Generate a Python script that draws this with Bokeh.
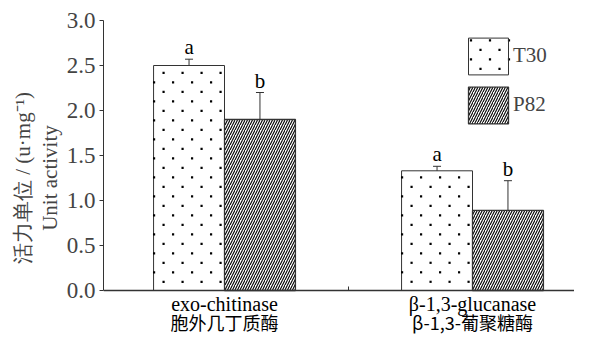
from bokeh.plotting import figure
from bokeh.models import (Range1d, FixedTicker, ColumnDataSource, Whisker, TeeHead,
                          Legend, LegendItem)
from bokeh.core.properties import value
from bokeh.embed import file_html
from bokeh.resources import INLINE

categories_en = ["exo-chitinase", "β-1,3-glucanase"]
categories_zh = ["胞外几丁质酶", "β-1,3-葡聚糖酶"]
series = ["T30", "P82"]
t30_values = [2.50, 1.33]
t30_errors = [0.07, 0.05]
p82_values = [1.90, 0.89]
p82_errors = [0.30, 0.33]
t30_letters = ["a", "a"]
p82_letters = ["b", "b"]
y_ticks = [0.0, 0.5, 1.0, 1.5, 2.0, 2.5, 3.0]

SERIF = "Liberation Serif"
CJK = "Noto Sans CJK SC"
FS = "21px"
AX = "#333333"

# layout constants
W, H = 574, 335
LEFT, TOP = 103, 20
AXIS_Y = 290                      # pixel row of y = 0
PX_X = 248.0                      # pixels per x unit
PX_Y = (AXIS_Y - TOP) / 3.0       # pixels per y unit
G1_PX = 224                       # pixel column of first group centre
group_pos = [i + 1 for i in range(len(categories_en))]
offset = 0.143
bar_w = 0.286

x0 = 1 - (G1_PX - LEFT) / PX_X
x1 = x0 + (W - LEFT) / PX_X
y1 = 3.0
y0 = y1 - (H - TOP) / PX_Y

p = figure(width=W, height=H, x_range=Range1d(x0, x1), y_range=Range1d(y0, y1),
           output_backend="svg", toolbar_location=None,
           min_border_left=LEFT, min_border_right=0, min_border_top=TOP, min_border_bottom=0)
p.outline_line_color = None
p.xgrid.visible = False
p.ygrid.visible = False
p.background_fill_color = "white"
p.border_fill_color = "white"

t30_src = ColumnDataSource(dict(
    x=[g - offset for g in group_pos], top=t30_values,
    upper=[v + e for v, e in zip(t30_values, t30_errors)], letter=t30_letters))
p82_src = ColumnDataSource(dict(
    x=[g + offset for g in group_pos], top=p82_values,
    upper=[v + e for v, e in zip(p82_values, p82_errors)], letter=p82_letters))

r1 = p.vbar(x="x", top="top", width=bar_w, source=t30_src, fill_color="white",
            fill_alpha=0, line_color=AX, line_width=1)
r2 = p.vbar(x="x", top="top", width=bar_w, source=p82_src, fill_color="white",
            line_color=AX, line_width=1.3, hatch_pattern="right_diagonal_line",
            hatch_color="black", hatch_scale=5, hatch_weight=1.1)


# dotted fill texture for T30 (staggered dot grid, 19 px x 9.5 px)
def dot_grid(left, right, bottom, top):
    xs, ys = [], []
    j = 0
    ypx = 8.7
    while bottom + ypx / PX_Y < top - 2 / PX_Y:
        start = 10.0 if j % 2 == 0 else 0.5
        xpx = start
        while left + xpx / PX_X <= right + 1e-9:
            xs.append(left + xpx / PX_X)
            ys.append(bottom + ypx / PX_Y)
            xpx += 19.0
        ypx += 9.5
        j += 1
    return xs, ys


dx, dy = [], []
for xc, t in zip(t30_src.data["x"], t30_values):
    a, b = dot_grid(xc - bar_w / 2, xc + bar_w / 2, 0.0, t)
    dx += a
    dy += b
p.scatter(dx, dy, marker="square", size=2.2, fill_color="black", line_color=None)

for src in (t30_src, p82_src):
    p.add_layout(Whisker(source=src, base="x", lower="top", upper="upper",
                         upper_head=TeeHead(size=8, line_color=AX, line_width=1),
                         lower_head=None, line_color=AX, line_width=1))
    p.text(x="x", y="upper", text="letter", source=src, text_font=value(SERIF),
           text_font_size=FS, text_align="center", text_baseline="bottom",
           y_offset=0, text_color="black")

# legend: drawn swatch top-left at (468, 37) px, 40 x 37 px (legend insets 10 %)
SW_X, SW_Y, SW, SH = 468, 37, 40, 37
GW, GH = SW / 0.8, SH / 0.8
GAP = 3
area_left = SW_X - (GW - SW) / 2
area_top = SW_Y - (GH - SH) / 2
legend = Legend(items=[LegendItem(label=series[0], renderers=[r1]),
                       LegendItem(label=series[1], renderers=[r2])],
                location=(area_left - LEFT, (H - area_top) - (2 * GH + GAP)),
                orientation="vertical",
                glyph_width=int(round(GW)), glyph_height=int(round(GH)), spacing=GAP,
                padding=0, margin=0, label_standoff=0, border_line_color=None,
                background_fill_alpha=0,
                label_text_font=SERIF, label_text_font_size=FS)
p.add_layout(legend)

# dots inside the T30 legend swatch (seen through its transparent fill)
sl = 1 + (SW_X + 2 - G1_PX) / PX_X
sr = 1 + (SW_X + 2 + SW - G1_PX) / PX_X
sb = (AXIS_Y - SW_Y - SH) / PX_Y
st = (AXIS_Y - SW_Y) / PX_Y
lx, ly = dot_grid(sl, sr, sb - 3 / PX_Y, st + 2 / PX_Y)
p.scatter(lx, ly, marker="square", size=2.2, fill_color="black", line_color=None)

# y axis
ya = p.yaxis[0]
ya.ticker = FixedTicker(ticks=y_ticks)
ya.bounds = (0, 3)
ya.major_label_overrides = {t: f"{t:.1f}" for t in y_ticks}
ya.major_tick_out = 4
ya.major_tick_in = 0
ya.minor_tick_line_color = None
ya.major_label_text_font = SERIF
ya.major_label_text_font_size = "23px"
ya.major_label_standoff = 4
ya.axis_label = "活力单位 / (u·mg⁻¹)\nUnit activity"
ya.axis_label_text_font = SERIF
ya.axis_label_text_font_size = FS
ya.axis_label_text_font_style = "normal"
ya.axis_label_text_line_height = 1.1
ya.axis_label_standoff = 2
ya.axis_line_color = AX
ya.major_tick_line_color = AX

# x axis at y = 0 with the middle tick; category labels as text below it
xa = p.xaxis[0]
xa.fixed_location = 0
xa.ticker = FixedTicker(ticks=group_pos, minor_ticks=[1.5])
xa.major_label_text_font_size = "0px"
xa.major_label_text_alpha = 0
xa.major_tick_line_color = None
xa.minor_tick_in = 4
xa.minor_tick_out = 0
xa.minor_tick_line_color = AX
xa.axis_line_color = AX
xa.axis_line_width = 1.3

lab_src = ColumnDataSource(dict(x=group_pos, en=categories_en, zh=categories_zh))
p.text(x="x", y=(AXIS_Y - 303) / PX_Y, text="en", source=lab_src, text_align="center",
       text_baseline="middle", text_font=value(SERIF), text_font_size="20px",
       text_color="black")
p.text(x="x", y=(AXIS_Y - 321) / PX_Y, text="zh", source=lab_src, text_align="center",
       text_baseline="middle", text_font=value(CJK), text_font_size="18px",
       text_color="black")

open("out.html", "w").write(file_html(p, INLINE))
